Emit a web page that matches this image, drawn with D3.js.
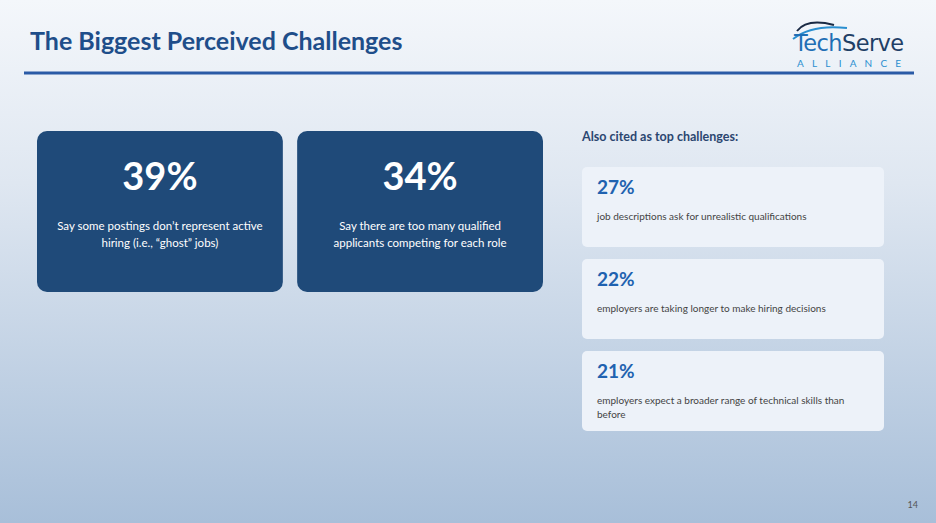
<!DOCTYPE html>
<html><head><meta charset="utf-8">
<script src="https://cdn.jsdelivr.net/npm/d3@7"></script>
<style>body{margin:0;overflow:hidden}svg{display:block;font-family:Lato,"Open Sans",sans-serif}</style>
</head><body>
<svg id="chart" width="936" height="523"></svg>
<script>
// main stats (dark cards)
const mainValues = [39, 34];
const mainLabels = [
  ["Say some postings don\u2019t represent active", "hiring (i.e., \u201cghost\u201d jobs)"],
  ["Say there are too many qualified", "applicants competing for each role"]
];
// other challenges (light cards)
const otherValues = [27, 22, 21];
const otherLabels = [
  ["job descriptions ask for unrealistic qualifications"],
  ["employers are taking longer to make hiring decisions"],
  ["employers expect a broader range of technical skills than", "before"]
];

const svg = d3.select("#chart");
const defs = svg.append("defs");
const grad = defs.append("linearGradient").attr("id", "bg").attr("x1", 0).attr("y1", 0).attr("x2", 0).attr("y2", 1);
grad.append("stop").attr("offset", "0%").attr("stop-color", "#f4f7fb");
grad.append("stop").attr("offset", "35%").attr("stop-color", "#dfe7f1");
grad.append("stop").attr("offset", "100%").attr("stop-color", "#a8bfd9");
svg.append("rect").attr("width", 936).attr("height", 523).attr("fill", "url(#bg)");

// header
svg.append("text").attr("x", 30).attr("y", 50).attr("fill", "#1f4e8a")
  .attr("font-size", 25).attr("font-weight", 700).text("The Biggest Perceived Challenges");
svg.append("line").attr("x1", 24).attr("x2", 914).attr("y1", 73).attr("y2", 73)
  .attr("stroke", "#2a5aa6").attr("stroke-width", 3);

// logo
const logo = svg.append("g");
logo.append("path").attr("d", "M797,31 Q807,18 834,25").attr("fill", "none").attr("stroke", "#1a2a44").attr("stroke-width", 2);
logo.append("path").attr("d", "M793,39 Q812,24 847,28").attr("fill", "none").attr("stroke", "#2a8fd0").attr("stroke-width", 2);
logo.append("text").attr("x", 794).attr("y", 51).attr("font-size", 22.5).attr("font-weight", 400)
  .attr("font-family", "'DejaVu Sans',sans-serif").attr("letter-spacing", -0.6)
  .selectAll("tspan").data([["Tech", "#1f6fb5"], ["Serve", "#1f3f66"]]).join("tspan")
  .attr("fill", d => d[1]).text(d => d[0]);
logo.append("text").attr("x", 797).attr("y", 67).attr("font-size", 10).attr("fill", "#2a8fd0")
  .attr("letter-spacing", 8.2).text("ALLIANCE");

// dark cards
const xMain = d3.scaleBand().domain(d3.range(mainValues.length)).range([37, 543]).paddingInner(0.055).paddingOuter(0);
const mg = svg.selectAll(".main").data(mainValues).join("g").attr("transform", (d, i) => `translate(${xMain(i)},131)`);
mg.append("rect").attr("width", xMain.bandwidth()).attr("height", 161).attr("rx", 10).attr("fill", "#1f4a79");
mg.append("text").attr("x", xMain.bandwidth() / 2).attr("y", 59).attr("text-anchor", "middle")
  .attr("fill", "#fff").attr("font-size", 38).attr("font-weight", 700).text(d => d + "%");
mg.each(function (d, i) {
  d3.select(this).append("text").attr("text-anchor", "middle").attr("fill", "#fff").attr("font-size", 11.5)
    .selectAll("tspan").data(mainLabels[i]).join("tspan")
    .attr("x", xMain.bandwidth() / 2).attr("y", (t, j) => 99 + j * 17).text(t => t);
});

// right column
svg.append("text").attr("x", 582).attr("y", 141).attr("fill", "#2b4670").attr("font-size", 12.5)
  .attr("font-weight", 700).text("Also cited as top challenges:");
const yOther = d3.scaleBand().domain(d3.range(otherValues.length)).range([167, 431]).paddingInner(0.13).paddingOuter(0);
const og = svg.selectAll(".other").data(otherValues).join("g").attr("transform", (d, i) => `translate(582,${yOther(i)})`);
og.append("rect").attr("width", 302).attr("height", yOther.bandwidth()).attr("rx", 5).attr("fill", "#edf2f9");
og.append("text").attr("x", 15).attr("y", 27).attr("fill", "#1f62b0").attr("font-size", 19)
  .attr("font-weight", 700).text(d => d + "%");
og.each(function (d, i) {
  d3.select(this).append("text").attr("fill", "#444").attr("font-size", 10)
    .selectAll("tspan").data(otherLabels[i]).join("tspan")
    .attr("x", 15).attr("y", (t, j) => 53 + j * 14).text(t => t);
});

svg.append("text").attr("x", 918).attr("y", 508).attr("text-anchor", "end").attr("fill", "#555")
  .attr("font-size", 9).text("14");
</script>
</body></html>
